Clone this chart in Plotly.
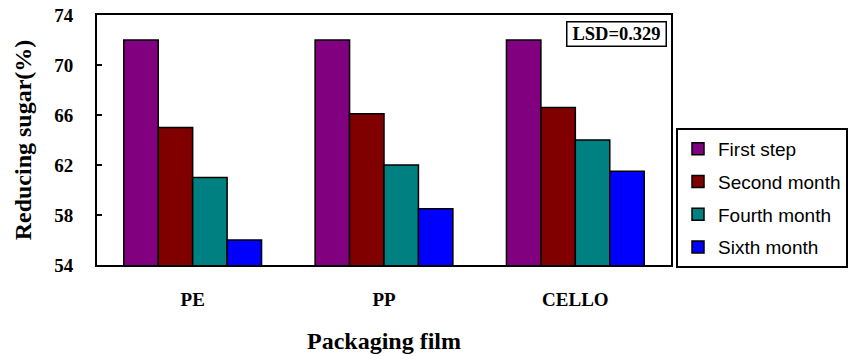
import plotly.graph_objects as go

categories = ["PE", "PP", "CELLO"]
series_names = ["First step", "Second month", "Fourth month", "Sixth month"]
first_step = [72.0, 72.0, 72.0]
second_month = [65.0, 66.1, 66.6]
fourth_month = [61.0, 62.0, 64.0]
sixth_month = [56.0, 58.5, 61.5]
colors = ["#800080", "#800000", "#008080", "#0000FF"]
y_ticks = [54, 58, 62, 66, 70, 74]

serif = "Liberation Serif, Times New Roman, serif"
sans = "Liberation Sans, Arial, sans-serif"

W, H = 852, 356

fig = go.Figure()
for name, vals, col in zip(series_names, [first_step, second_month, fourth_month, sixth_month], colors):
    fig.add_trace(go.Bar(
        x=categories, y=vals, name=name, legendgroup=name,
        marker=dict(color=col, line=dict(color="black", width=1.5)),
    ))

fig.update_layout(
    width=W, height=H,
    margin=dict(l=97, r=181, t=15, b=91),
    paper_bgcolor="white", plot_bgcolor="white",
    barmode="group", bargap=0.28, bargroupgap=0,
    showlegend=True,
    legend=dict(
        xref="container", yref="container",
        x=676 / W, xanchor="left", y=1 - 128 / H, yanchor="top",
        bordercolor="black", borderwidth=2, bgcolor="white",
        font=dict(family=sans, size=19, color="black"),
        tracegroupgap=5,
    ),
    xaxis=dict(
        showline=True, linecolor="black", linewidth=2, mirror=True,
        ticks="", showgrid=False, automargin=False, ticklabeloverflow="allow",
        tickfont=dict(family=serif, size=19, color="black", weight="bold"),
        ticklabelstandoff=16,
        title=dict(text="Packaging film", font=dict(family=serif, size=24, color="black", weight="bold"), standoff=23),
    ),
    yaxis=dict(
        range=[54, 74], tickvals=y_ticks, automargin=False, ticklabeloverflow="allow",
        showline=True, linecolor="black", linewidth=2, mirror=True,
        ticks="inside", ticklen=5, tickwidth=1.5, tickcolor="black",
        showgrid=False, zeroline=False,
        tickfont=dict(family=serif, size=19, color="black", weight="bold"),
        ticklabelstandoff=18,
        title=dict(text="Reducing sugar(%)", font=dict(family=serif, size=24, color="black", weight="bold"), standoff=16),
    ),
    annotations=[dict(
        text="LSD=0.329", xref="paper", yref="paper", x=0.905, y=0.924,
        xanchor="center", yanchor="middle", showarrow=False,
        font=dict(family=serif, size=18.5, color="black", weight="bold"),
        width=95, height=20,
        bordercolor="black", borderwidth=1.5, borderpad=1.5, bgcolor="white",
    )],
)

fig.write_html("out.html", config={"displayModeBar": False},
               post_script="document.body.style.margin='0';")
